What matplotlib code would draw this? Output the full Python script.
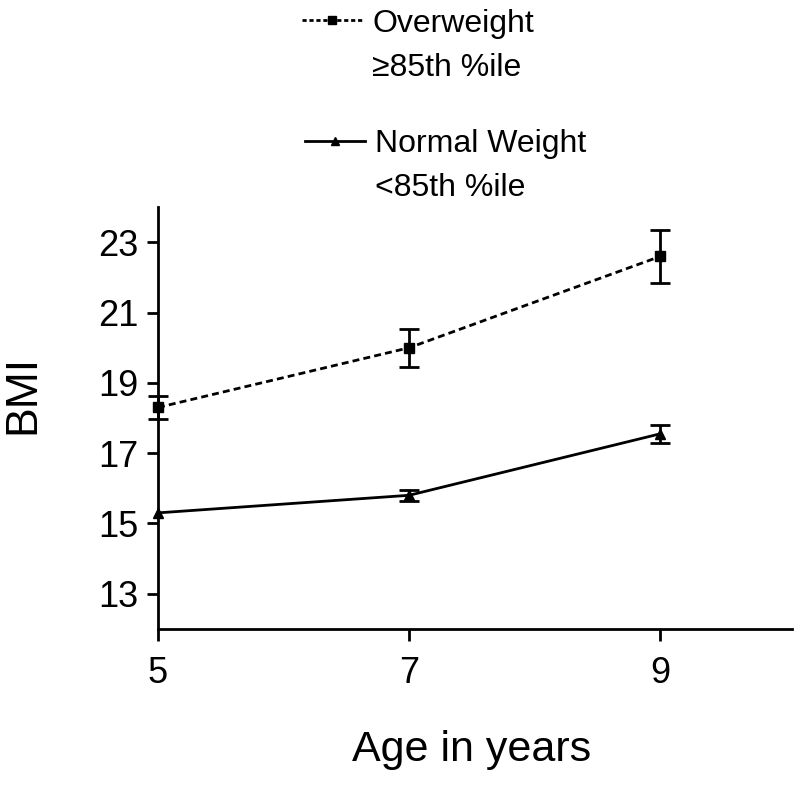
import matplotlib
matplotlib.use('Agg')
import matplotlib.pyplot as plt
from matplotlib.lines import Line2D

plt.rcParams['font.family'] = ['Liberation Sans', 'DejaVu Sans']

# Data
ages = [5, 7, 9]
overweight_bmi = [18.3, 20.0, 22.6]
overweight_err = [0.33, 0.54, 0.75]
normal_bmi = [15.3, 15.8, 17.55]
normal_err = [float('nan'), 0.15, 0.25]   # no visible bar at age 5

y_ticks = [13, 15, 17, 19, 21, 23]
x_ticks = [5, 7, 9]

fig = plt.figure(figsize=(8, 7.85), dpi=100)
ax = fig.add_axes([0.1975, 0.199, 0.7925, 0.537])

# Overweight series (dashed line, squares)
ax.errorbar(ages, overweight_bmi, yerr=overweight_err, color='black',
            linestyle=(0, (2.5, 1.5)), linewidth=2, marker='s', markersize=7,
            capsize=7, capthick=2, elinewidth=2, clip_on=False)
# Normal weight series (solid line, triangles)
ax.errorbar(ages, normal_bmi, yerr=normal_err, color='black',
            linestyle='-', linewidth=2, marker='^', markersize=7,
            capsize=7, capthick=2, elinewidth=2, clip_on=False)

ax.set_xlim(5, 10.05)
ax.set_ylim(12, 24)
ax.set_xticks(x_ticks)
ax.set_yticks(y_ticks)
ax.spines['top'].set_visible(False)
ax.spines['right'].set_visible(False)
ax.spines['left'].set_linewidth(2)
ax.spines['bottom'].set_linewidth(2)
ax.tick_params(axis='y', direction='out', length=8, width=2, pad=6, labelsize=26)
ax.tick_params(axis='x', direction='out', length=8.5, width=2, pad=11, labelsize=26)

ax.set_ylabel('BMI', fontsize=32)
ax.yaxis.set_label_coords(-0.181, 0.557)
ax.set_xlabel('Age in years', fontsize=31)
ax.xaxis.set_label_coords(0.495, -0.24)

# Legend (two blocks above the plot)
h_over = Line2D([], [], color='black', linestyle=(0, (1.5, 1)), linewidth=2,
                marker='s', markersize=6)
h_norm = Line2D([], [], color='black', linestyle='-', linewidth=2,
                marker='^', markersize=6)
blank = Line2D([], [], linestyle='none')

leg_kw = dict(frameon=False, fontsize=23, handlelength=1.9, handletextpad=0.3,
              labelspacing=0.45, borderpad=0, borderaxespad=0, loc='upper left')
leg1 = fig.legend([h_over, blank], ['Overweight', '\u226585th %ile'],
                  bbox_to_anchor=(0.3775, 0.989), **leg_kw)
leg2 = fig.legend([h_norm, blank], ['Normal Weight', '<85th %ile'],
                  bbox_to_anchor=(0.381, 0.836), **leg_kw)

fig.savefig('out.png', dpi=100)
